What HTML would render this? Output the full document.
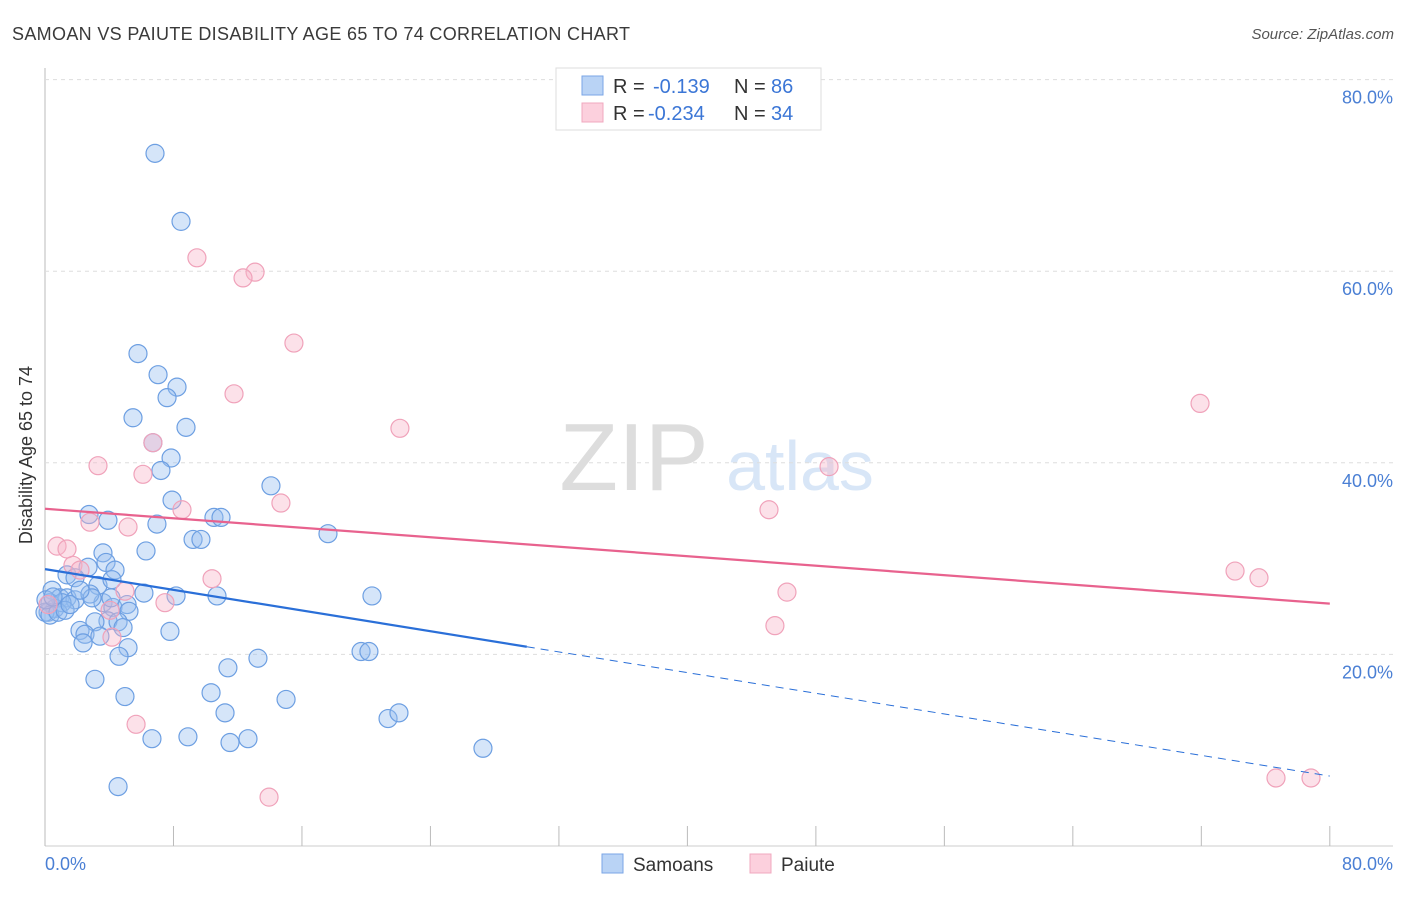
<!DOCTYPE html>
<html><head><meta charset="utf-8"><style>
body{margin:0;background:#fff;font-family:"Liberation Sans",sans-serif}
svg text{font-family:"Liberation Sans",sans-serif}
</style></head><body>
<svg id="c" width="1406" height="892">
<text x="12" y="40" font-size="18" fill="#3a3a3a" textLength="618">SAMOAN VS PAIUTE DISABILITY AGE 65 TO 74 CORRELATION CHART</text>
<text x="1394" y="39" font-size="15" fill="#555" text-anchor="end" font-style="italic">Source: ZipAtlas.com</text>
<text x="634" y="490" font-size="96" fill="#ddd" font-family="Liberation Serif" text-anchor="middle">ZIP</text>
<text x="800" y="490" font-size="70" fill="#d8e6f7" text-anchor="middle">atlas</text>
<g id="grid"></g><g id="pts"></g><g id="lines"></g>
<text x="32" y="455" font-size="18" fill="#333" text-anchor="middle" transform="rotate(-90 32 455)">Disability Age 65 to 74</text>
<text x="45" y="870" font-size="18" fill="#4a7fd4">0.0%</text>
<text x="1393" y="870" font-size="18" fill="#4a7fd4" text-anchor="end">80.0%</text>
<g>
<rect x="556" y="68" width="265" height="62" fill="#fff" stroke="#ddd"/>
<rect x="582" y="76" width="21" height="19" fill="#b9d3f5" stroke="#7aa6e6"/>
<rect x="582" y="103" width="21" height="19" fill="#fcd0dd" stroke="#f0a8bf"/>
<text x="613" y="93" font-size="20" fill="#333">R = </text><text x="653" y="93" font-size="20" fill="#3b76d6">-0.139</text>
<text x="734" y="93" font-size="20" fill="#333">N = </text><text x="771" y="93" font-size="20" fill="#3b76d6">86</text>
<text x="613" y="120" font-size="20" fill="#333">R = </text><text x="648" y="120" font-size="20" fill="#3b76d6">-0.234</text>
<text x="734" y="120" font-size="20" fill="#333">N = </text><text x="771" y="120" font-size="20" fill="#3b76d6">34</text>
</g>
<g>
<rect x="602" y="854" width="21" height="19" fill="#b9d3f5" stroke="#7aa6e6"/>
<text x="633" y="871" font-size="19" fill="#333">Samoans</text>
<rect x="750" y="854" width="21" height="19" fill="#fcd0dd" stroke="#f0a8bf"/>
<text x="781" y="871" font-size="19" fill="#333">Paiute</text>
</g>
</svg>
<script>
const ns="http://www.w3.org/2000/svg";
const yTicks=[20,40,60,80];
const yTickLabels=["20.0%","40.0%","60.0%","80.0%"];
const xTicks=[0,8,16,24,32,40,48,56,64,72,80];
const samoanX=[6.85,8.47,5.79,7.04,8.22,7.60,5.48,8.78,6.72,7.85,7.22,14.07,7.91,2.74,3.92,6.97,10.52,10.96,17.62,9.22,9.71,6.29,3.61,3.80,2.68,4.36,1.37,1.87,3.30,6.16,8.16,10.71,20.36,0.44,0.93,1.37,1.87,0.31,0.62,0.19,1.06,3.61,4.23,5.11,5.23,3.92,3.11,4.55,4.86,2.18,2.49,3.42,7.78,2.37,5.17,4.61,19.68,20.17,13.26,11.39,3.11,10.34,4.98,15.01,11.21,21.36,22.04,6.66,8.90,11.52,12.64,27.27,4.55,0.0,0.31,0.81,0.06,1.25,1.56,0.50,2.80,4.17,2.93,2.18,4.11];
const samoanY=[72.3,65.2,51.4,49.2,47.9,46.8,44.7,43.7,42.1,40.5,39.2,37.6,36.1,34.6,34.0,33.6,34.3,34.3,32.6,32.0,32.0,30.8,30.6,29.6,29.1,28.8,28.3,28.0,27.2,26.4,26.1,26.1,26.1,26.7,25.9,25.9,25.7,25.4,24.8,24.4,25.4,25.4,24.9,25.2,24.5,23.5,23.4,23.4,22.8,22.5,22.1,21.9,22.4,21.2,20.7,19.8,20.3,20.3,19.6,18.6,17.4,16.0,15.6,15.3,13.9,13.3,13.9,11.2,11.4,10.8,11.2,10.2,6.2,24.4,24.1,24.4,25.7,24.6,25.2,26.0,26.3,27.8,25.9,26.7,25.9];
const paiuteX=[9.46,13.08,12.33,15.50,11.77,22.10,71.92,6.72,3.30,6.10,48.82,8.53,14.69,45.08,2.80,5.17,0.75,1.37,1.74,74.10,75.59,10.40,46.20,4.98,7.47,4.05,45.45,4.17,5.67,13.95,76.65,78.83,2.18,0.19];
const paiuteY=[61.4,59.9,59.3,52.5,47.2,43.6,46.2,42.1,39.7,38.8,39.6,35.1,35.8,35.1,33.8,33.3,31.3,31.0,29.3,28.7,28.0,27.9,26.5,26.6,25.4,24.6,23.0,21.8,12.7,5.1,7.1,7.1,28.8,25.2];
const samoanTrend=[28.9,7.3];
const samoanSolidEnd=30;
const paiuteTrend=[35.2,25.3];
const X=v=>45+v*16.06, Y=v=>846-v*9.58;
function mk(t,a,p){const e=document.createElementNS(ns,t);for(const k in a)e.setAttribute(k,a[k]);p.appendChild(e);return e;}
const g=document.getElementById('grid');
let ax=mk('line',{x1:45,y1:68,x2:45,y2:846,stroke:'#bbb'},g);


let bx=mk('line',{x1:45,y1:846,x2:1393,y2:846,stroke:'#ccc'},g);


yTicks.forEach((v,i)=>{
 const l=mk('line',{x1:45,x2:1393,y1:Y(v),y2:Y(v),stroke:'#ddd','stroke-dasharray':'4,4'},g);
 
 
 const t=mk('text',{x:1393,y:Y(v)+24,'font-size':18,fill:'#4a7fd4','text-anchor':'end'},g);
 t.textContent=yTickLabels[i];
 
 
});
xTicks.forEach(v=>{
 const l=mk('line',{x1:X(v),x2:X(v),y1:826,y2:846,stroke:'#bbb'},g);
 
 
});
const p=document.getElementById('pts');
samoanX.forEach((x,i)=>{
 const c=mk('circle',{cx:X(x),cy:Y(samoanY[i]),r:9,fill:'rgba(150,190,240,0.4)',stroke:'#6d9fe2','stroke-width':1.2},p);
 
 
});
paiuteX.forEach((x,i)=>{
 const c=mk('circle',{cx:X(x),cy:Y(paiuteY[i]),r:9,fill:'rgba(248,180,200,0.4)',stroke:'#f0a2ba','stroke-width':1.2},p);
 
 
});
const L=document.getElementById('lines');
const by=x=>samoanTrend[0]+(samoanTrend[1]-samoanTrend[0])*x/80;
let t1=mk('line',{x1:X(0),y1:Y(by(0)),x2:X(samoanSolidEnd),y2:Y(by(samoanSolidEnd)),stroke:'#2a6fd8','stroke-width':2.2},L);


let t2=mk('line',{x1:X(samoanSolidEnd),y1:Y(by(samoanSolidEnd)),x2:X(80),y2:Y(by(80)),stroke:'#2a6fd8','stroke-width':1,'stroke-dasharray':'8,6'},L);


let t3=mk('line',{x1:X(0),y1:Y(paiuteTrend[0]),x2:X(80),y2:Y(paiuteTrend[1]),stroke:'#e8628e','stroke-width':2.2},L);


</script>
</body></html>
